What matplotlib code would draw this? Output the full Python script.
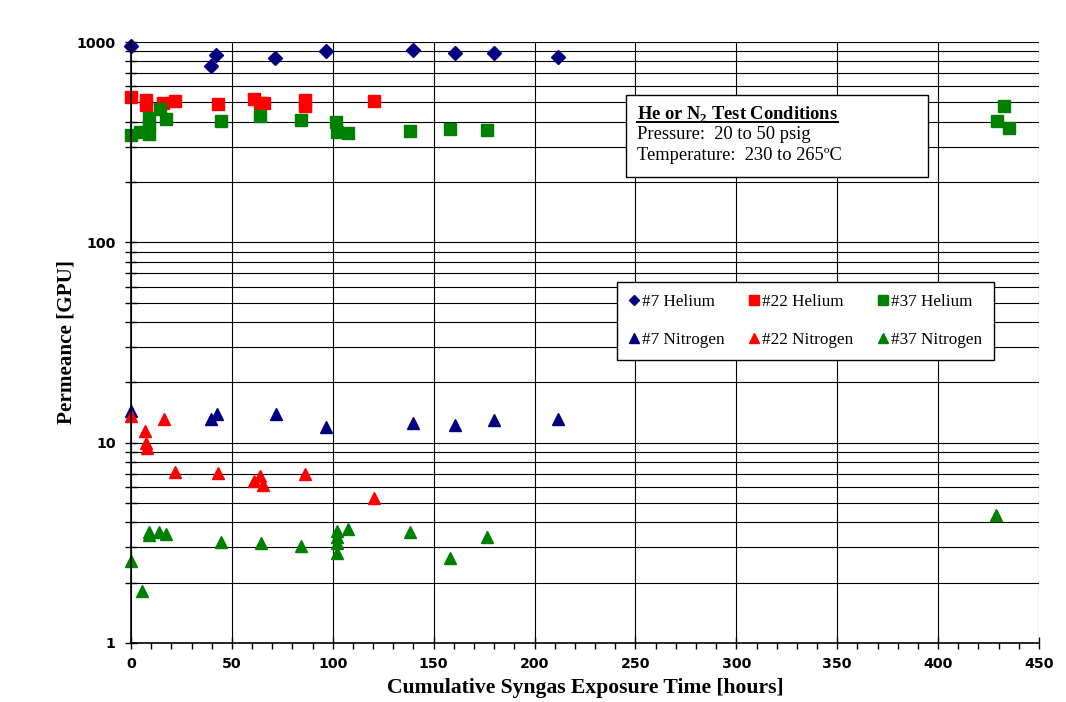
import numpy as np
import matplotlib
matplotlib.use("Agg")
import matplotlib.pyplot as plt
from matplotlib.patches import Rectangle
from matplotlib.lines import Line2D

# data (hours, GPU)
he7_x = [0.1, 39.5, 42.3, 71.5, 96.5, 139.8, 160.6, 179.9, 211.4]
he7_y = [960, 762, 861, 835, 905, 912, 881, 879, 839]

he22_x = [0.1, 7.6, 7.6, 15.8, 21.6, 43.1, 61.0, 63.8, 65.7, 86.0, 86.0, 120.4]
he22_y = [533, 513, 484, 498, 507, 490, 518, 494, 497, 513, 479, 507]

he37_x = [0.1, 4.3, 8.9, 8.9, 8.9, 14.2, 17.5, 44.8, 64.1, 84.4, 101.8, 101.9,
          107.7, 138.3, 158.3, 176.4, 429.0, 432.9, 435.3]
he37_y = [343, 357, 348, 380, 416, 461, 411, 402, 427, 408, 400, 357,
          350, 360, 366, 365, 403, 479, 371]

n7_x = [0.1, 39.5, 42.6, 71.7, 96.5, 139.8, 160.6, 179.9, 211.4]
n7_y = [14.4, 13.1, 13.9, 13.9, 12.0, 12.6, 12.2, 13.0, 13.1]

n22_x = [0.1, 16.2, 7.1, 7.6, 7.9, 22.0, 42.9, 61.0, 63.8, 65.4, 86.0, 120.4]
n22_y = [13.6, 13.2, 11.5, 10.0, 9.4, 7.16, 7.08, 6.43, 6.8, 6.14, 6.96, 5.27]

n37_x = [0.1, 5.3, 8.9, 8.9, 13.8, 17.5, 44.8, 64.3, 84.4, 102.0, 102.0, 102.0,
         102.0, 107.7, 138.3, 158.3, 176.4, 428.9]
n37_y = [2.57, 1.81, 3.59, 3.45, 3.59, 3.50, 3.20, 3.14, 3.05, 3.63, 3.39, 3.14,
         2.80, 3.69, 3.57, 2.66, 3.39, 4.35]

navy = "#000080"
red = "#FF0000"
green = "#008000"

plt.rcParams["mathtext.fontset"] = "custom"
plt.rcParams["mathtext.rm"] = "Liberation Serif:bold"
plt.rcParams["mathtext.bf"] = "Liberation Serif:bold"

fig = plt.figure(figsize=(10.66, 7.02), dpi=100)
ax = fig.add_axes([131 / 1066, 59 / 702, 908 / 1066, 601 / 702])

ax.set_yscale("log")
ax.set_xlim(0, 450)
ax.set_ylim(1, 1000)

ax.grid(True, which="both", axis="y", color="black", linewidth=0.8)
ax.grid(True, which="major", axis="x", color="black", linewidth=0.8)
ax.set_axisbelow(True)

h1, = ax.plot(he7_x, he7_y, "D", color=navy, ms=7, ls="none", label="#7 Helium", clip_on=False)
h2, = ax.plot(he22_x, he22_y, "s", color=red, ms=8.5, ls="none", label="#22 Helium", clip_on=False)
h3, = ax.plot(he37_x, he37_y, "s", color=green, ms=8.5, ls="none", label="#37 Helium", clip_on=False)
h4, = ax.plot(n7_x, n7_y, "^", color=navy, ms=8.5, ls="none", label="#7 Nitrogen", clip_on=False)
h5, = ax.plot(n22_x, n22_y, "^", color=red, ms=8.5, ls="none", label="#22 Nitrogen", clip_on=False)
h6, = ax.plot(n37_x, n37_y, "^", color=green, ms=8.5, ls="none", label="#37 Nitrogen", clip_on=False)

ax.spines["top"].set_visible(False)
ax.spines["right"].set_visible(False)
ax.spines["left"].set_linewidth(1.2)
ax.spines["bottom"].set_linewidth(1.2)

ax.set_xticks(np.arange(0, 451, 50))
ax.set_xticks(np.arange(0, 451, 10), minor=True)
ax.set_yticks([1, 10, 100, 1000])
ax.set_yticklabels(["1", "10", "100", "1000"])
ax.tick_params(axis="x", which="major", direction="inout", length=8, width=1)
ax.tick_params(axis="x", which="minor", direction="out", length=4, width=1)
ax.tick_params(axis="y", which="both", direction="inout", length=8, width=1)
ax.tick_params(axis="y", which="minor", labelleft=False)
for lab in ax.get_xticklabels() + ax.get_yticklabels():
    lab.set_fontweight("bold")
    lab.set_fontsize(10.2)
    lab.set_family("DejaVu Sans")
ax.tick_params(axis="x", pad=6)
ax.tick_params(axis="y", pad=7)

ax.set_xlabel("Cumulative Syngas Exposure Time [hours]", fontsize=15.6,
              fontweight="bold", family="Liberation Serif", labelpad=5)
ax.set_ylabel("Permeance [GPU]", fontsize=15.2, fontweight="bold",
              family="Liberation Serif", labelpad=0)

# conditions box
box = Rectangle((0.545, 0.775), 0.333, 0.137, transform=ax.transAxes,
                facecolor="white", edgecolor="black", linewidth=1, zorder=5)
ax.add_patch(box)
title = ax.text(0.557, 0.880, r"He or N$_2$ Test Conditions", transform=ax.transAxes,
                fontsize=13.3, fontweight="bold", family="Liberation Serif",
                va="center", ha="left", zorder=6)
ax.text(0.557, 0.846, "Pressure:  20 to 50 psig", transform=ax.transAxes,
        fontsize=13.3, family="Liberation Serif", va="center", ha="left", zorder=6)
ax.text(0.557, 0.811, "Temperature:  230 to 265ºC", transform=ax.transAxes,
        fontsize=13.3, family="Liberation Serif", va="center", ha="left", zorder=6)

fig.canvas.draw()
bb = title.get_window_extent().transformed(ax.transAxes.inverted())
ax.add_line(Line2D([bb.x0, bb.x1], [bb.y0 + 0.003, bb.y0 + 0.003], transform=ax.transAxes,
                   color="black", linewidth=1.4, zorder=7))

leg = ax.legend(handles=[h1, h4, h2, h5, h3, h6], ncol=3, loc="upper left",
                bbox_to_anchor=(0.535, 0.601), frameon=True, fancybox=False,
                edgecolor="black", framealpha=1, prop={"family": "Liberation Serif", "size": 12.3},
                handlelength=0.6, handletextpad=0.15, columnspacing=1.45,
                labelspacing=1.3, borderpad=0.7, borderaxespad=0, markerscale=0.8)
leg.get_frame().set_linewidth(1)
leg.set_zorder(8)

fig.savefig("out.png", dpi=100)
